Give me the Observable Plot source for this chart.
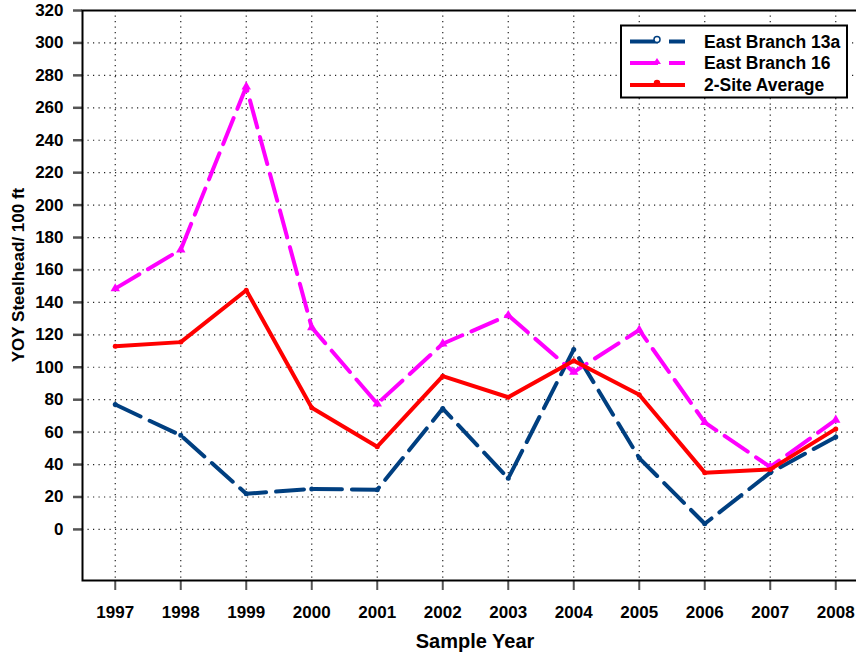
<!DOCTYPE html>
<html><head><meta charset="utf-8">
<script src="https://cdn.jsdelivr.net/npm/d3@7"></script>
<script src="https://cdn.jsdelivr.net/npm/@observablehq/plot@0.6"></script>
<style>
body{margin:0;background:#fff;}
#wrap{width:856px;height:654px;overflow:hidden;position:relative;background:#fff;}
#wrap svg{max-width:none !important;}
</style></head><body><div id="wrap"></div>
<script>
const years = [1997, 1998, 1999, 2000, 2001, 2002, 2003, 2004, 2005, 2006, 2007, 2008];
const eastBranch13a = [77, 58, 22, 25, 24.5, 74.5, 31.5, 111, 44, 3.5, 35, 57];
const eastBranch16 = [148.5, 172.5, 273, 124.5, 77.5, 114.5, 132, 97, 123, 66, 38.5, 67.5];
const siteAverage = [113, 115.5, 147.5, 75, 51, 94.5, 81.5, 104, 83, 35, 37, 62];
const yTicks = [0, 20, 40, 60, 80, 100, 120, 140, 160, 180, 200, 220, 240, 260, 280, 300, 320];
const seriesNames = ["East Branch 13a", "East Branch 16", "2-Site Average"];
const seriesColors = ["#003F80", "#FF00FF", "#FF0000"];
const xTitle = "Sample Year";
const yTitle = "YOY Steelhead/ 100 ft";

const rows13a = years.map((year, i) => ({year, value: eastBranch13a[i]}));
const rows16 = years.map((year, i) => ({year, value: eastBranch16[i]}));
const rowsAvg = years.map((year, i) => ({year, value: siteAverage[i]}));

const font = "'Liberation Sans', Arial, Helvetica, sans-serif";

const plot = Plot.plot({
  width: 868,
  height: 654,
  marginLeft: 82,
  marginRight: 0,
  marginTop: 10,
  marginBottom: 74,
  style: {fontFamily: font, fontSize: "17px", fontWeight: "bold", color: "#000", background: "white", overflow: "visible", maxWidth: "none"},
  x: {domain: [1996.5, 2008.5], label: null},
  y: {domain: [-31.5, 320], label: null},
  marks: [
    Plot.gridY(yTicks, {stroke: "#222", strokeOpacity: 1, strokeWidth: 1.2, strokeDasharray: "1.2,4.3"}),
    Plot.gridX(years, {stroke: "#222", strokeOpacity: 1, strokeWidth: 1.2, strokeDasharray: "1.2,4.3"}),
    Plot.axisY(yTicks, {tickSize: 9, tickPadding: 10, stroke: "#555", strokeWidth: 2.5, fill: "#000", label: null, tickFormat: d => String(d)}),
    Plot.axisX(years, {tickSize: 10, tickPadding: 15, stroke: "#555", strokeWidth: 2, fill: "#000", label: null, tickFormat: d => String(d)}),
    Plot.frame({stroke: "#000", strokeWidth: 2}),
    Plot.line(rows13a, {x: "year", y: "value", stroke: seriesColors[0], strokeWidth: 4, strokeDasharray: "28,10", strokeLinejoin: "round"}),
    Plot.dot(rows13a, {x: "year", y: "value", r: 2.5, fill: seriesColors[0], stroke: "none"}),
    Plot.line(rows16, {x: "year", y: "value", stroke: seriesColors[1], strokeWidth: 4, strokeDasharray: "28,10", strokeLinejoin: "round"}),
    Plot.dot(rows16, {x: "year", y: "value", r: 3.5, symbol: "triangle", fill: seriesColors[1], stroke: "none"}),
    Plot.line(rowsAvg, {x: "year", y: "value", stroke: seriesColors[2], strokeWidth: 4, strokeLinejoin: "round"}),
    Plot.dot(rowsAvg, {x: "year", y: "value", r: 2.5, fill: seriesColors[2], stroke: "none"})
  ]
});
plot.style.maxWidth = "none";
plot.style.width = "868px";
plot.style.height = "654px";

document.getElementById("wrap").appendChild(plot);

const svg = d3.select(plot);
// axis titles
svg.append("text")
  .attr("transform", "translate(24,275) rotate(-90)")
  .attr("text-anchor", "middle")
  .attr("font-family", font).attr("font-weight", "bold").attr("font-size", 17)
  .attr("fill", "#000")
  .text(yTitle);
svg.append("text")
  .attr("x", 475).attr("y", 647.5)
  .attr("text-anchor", "middle")
  .attr("font-family", font).attr("font-weight", "bold").attr("font-size", 20)
  .attr("fill", "#000")
  .text(xTitle);

// legend
const lg = svg.append("g");
lg.append("rect").attr("x", 621).attr("y", 25.5).attr("width", 226).attr("height", 72)
  .attr("fill", "white").attr("stroke", "#000").attr("stroke-width", 2);
const legendY = [41.5, 63, 85];
seriesNames.forEach((name, i) => {
  const y = legendY[i];
  lg.append("line").attr("x1", 630).attr("x2", 685).attr("y1", y).attr("y2", y)
    .attr("stroke", seriesColors[i]).attr("stroke-width", 4)
    .attr("stroke-dasharray", i < 2 ? "28,11" : null);
  if (i === 1) {
    lg.append("path").attr("d", `M657,${y - 5}L661,${y + 1}L653,${y + 1}Z`).attr("fill", seriesColors[i]);
  } else {
    lg.append("circle").attr("cx", 657).attr("cy", y - 2).attr("r", i === 0 ? 3 : 2.5)
      .attr("fill", i === 0 ? "white" : seriesColors[i]).attr("stroke", seriesColors[i]).attr("stroke-width", 1.5);
  }
  lg.append("text").attr("x", 704).attr("y", y + 6)
    .attr("text-anchor", "start")
    .attr("font-family", font).attr("font-weight", "bold").attr("font-size", 17.5)
    .attr("fill", "#000").text(name);
});
</script>
</body></html>
